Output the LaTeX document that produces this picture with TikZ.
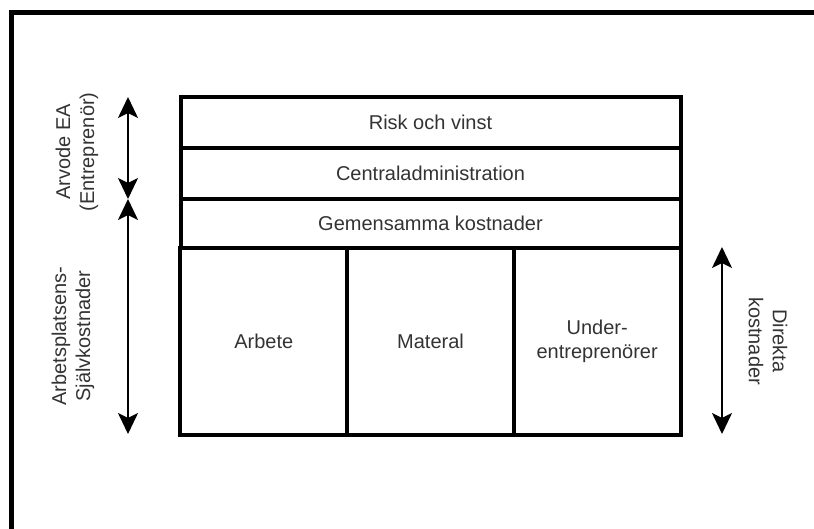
\documentclass[tikz,border=0pt]{standalone}
\usepackage{fontspec}
\setmainfont{Liberation Sans}
\usetikzlibrary{arrows.meta}
\begin{document}
\begin{tikzpicture}[x=1pt,y=-1pt,
  every node/.style={font=\fontsize{20}{24}\selectfont, text=black!80},
  cell/.style={draw=black, line width=4pt, inner sep=0pt, align=center},
  span/.style={line width=2pt, black,
    {Stealth[length=21pt,width=20pt,inset=5pt]}-{Stealth[length=21pt,width=20pt,inset=5pt]}},
  sidelabel/.style={align=center, inner sep=0pt}]
  \clip (0,0) rectangle (814,528);
  % outer frame, running past the page on the right and at the bottom
  \draw[line width=5pt] (11,12.5) rectangle (840,560);

  % cost stack: three full-width rows over three direct-cost columns
  \node[cell, minimum width=500pt, minimum height=50.5pt] (risk)  at (430.5,122.25) {Risk och vinst};
  \node[cell, minimum width=500pt, minimum height=51pt]   (admin) at (430.5,173)    {Centraladministration};
  \node[cell, minimum width=500pt, minimum height=49pt]   (gem)   at (430.5,223)    {Gemensamma kostnader};
  \node[cell, minimum width=166.67pt, minimum height=187pt] (arb) at (263.83,341) {Arbete};
  \node[cell, minimum width=166.67pt, minimum height=187pt] (mat) at (430.5,341)  {Materal};
  \node[cell, minimum width=166.67pt, minimum height=187pt] (ue)  at (597.17,341) {Under-\\entreprenörer};

  % extent markers
  \coordinate (a1) at (128,97);
  \coordinate (a2) at (128,199);
  \coordinate (b1) at (128,199);
  \coordinate (b2) at (128,434);
  \coordinate (c1) at (722,247);
  \coordinate (c2) at (722,434);
  \draw[span] (a1) -- (a2);
  \draw[span] (b1) -- (b2);
  \draw[span] (c1) -- (c2);

  % side labels
  \node[sidelabel, rotate=90]  (arvode) at (77,152)  {Arvode EA\\(Entreprenör)};
  \node[sidelabel, rotate=90]  (sjalv)  at (73,336)  {Arbetsplatsens-\\Självkostnader};
  \node[sidelabel, rotate=-90] (direkt) at (768,341) {Direkta\\kostnader};
\end{tikzpicture}
\end{document}
